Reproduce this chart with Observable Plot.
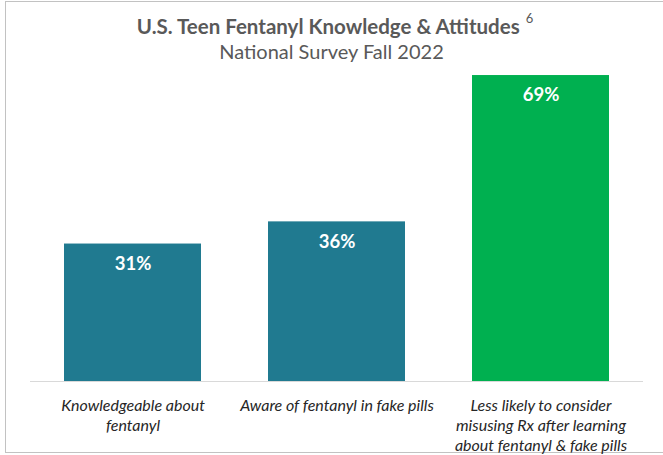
<!DOCTYPE html>
<html>
<head>
<meta charset="utf-8">
<script src="https://cdn.jsdelivr.net/npm/d3@7"></script>
<script src="https://cdn.jsdelivr.net/npm/@observablehq/plot@0.6"></script>
<style>
  html, body { margin: 0; padding: 0; background: #fff; }
  body { width: 663px; height: 455px; overflow: hidden; position: relative; font-family: Lato, "Open Sans", sans-serif; }
  #frame { position: absolute; left: 5px; top: 1px; width: 700px; height: 452px; border: 1px solid #c2c2c2; box-sizing: border-box; }
  #title { position: absolute; left: 0; width: 670px; top: 16px; text-align: center; font-size: 20.5px; line-height: 20px; font-weight: bold; color: #595959; white-space: nowrap; }
  #title sup { font-size: 13px; line-height: 13px; font-weight: normal; vertical-align: top; position: relative; top: -4px; margin-left: 6px; }
  #subtitle { position: absolute; left: 0; width: 663px; top: 41px; text-align: center; font-size: 20px; line-height: 20px; color: #595959; white-space: nowrap; }
  #chart { position: absolute; left: 0; top: 70px; }
</style>
</head>
<body>
<div id="frame"></div>
<div id="title">U.S. Teen Fentanyl Knowledge &amp; Attitudes<sup>6</sup></div>
<div id="subtitle">National Survey Fall 2022</div>
<div id="chart"></div>
<script>
const categories = [
  "Knowledgeable about\nfentanyl",
  "Aware of fentanyl in fake pills",
  "Less likely to consider\nmisusing Rx after learning\nabout fentanyl & fake pills"
];
const values = [31, 36, 69];
const groups = ["Knowledge", "Knowledge", "Attitude"];

const data = categories.map((c, i) => ({category: c, value: values[i], group: groups[i]}));

const chart = Plot.plot({
  width: 663,
  height: 385,
  marginLeft: 30,
  marginRight: 20,
  marginTop: 0.6,
  marginBottom: 74,
  style: {fontFamily: "Lato, 'Open Sans', sans-serif", background: "transparent"},
  x: {domain: categories, paddingInner: 0.33, paddingOuter: 0.165, label: null},
  y: {domain: [0, 70], axis: null},
  color: {domain: ["Knowledge", "Attitude"], range: ["#207A90", "#00B050"]},
  marks: [
    Plot.barY(data, {x: "category", y: "value", fill: "group"}),
    Plot.ruleY([0], {stroke: "#d9d9d9", strokeWidth: 1}),
    Plot.text(data, {x: "category", y: "value", text: d => d.value + "%", dy: 20, fill: "white", fontWeight: "bold", fontSize: 18.5}),
    Plot.axisX({tickSize: 0, tickPadding: 15, fontSize: 16, fontStyle: "italic", lineHeight: 1.26, color: "#262626", label: null})
  ]
});
document.getElementById("chart").appendChild(chart);
</script>
</body>
</html>
